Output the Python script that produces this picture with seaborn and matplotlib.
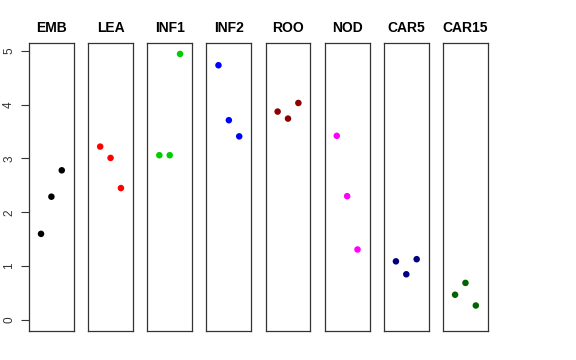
import matplotlib
matplotlib.use("Agg")
import matplotlib.pyplot as plt
import seaborn as sns
import pandas as pd

tissues = ["EMB", "LEA", "INF1", "INF2", "ROO", "NOD", "CAR5", "CAR15"]
colors = ["#000000", "#FF0000", "#00CD00", "#0000FF", "#8B0000", "#FF00FF", "#000080", "#006400"]
emb = [1.60, 2.29, 2.78]
lea = [3.22, 3.01, 2.45]
inf1 = [3.06, 3.06, 4.94]
inf2 = [4.73, 3.71, 3.41]
roo = [3.87, 3.74, 4.03]
nod = [3.42, 2.30, 1.31]
car5 = [1.09, 0.85, 1.13]
car15 = [0.47, 0.69, 0.27]
values = [emb, lea, inf1, inf2, roo, nod, car5, car15]
reps = [1, 2, 3]
yticks = [0, 1, 2, 3, 4, 5]

sns.set_theme(style="white")
plt.rcParams["font.family"] = ["Liberation Sans", "DejaVu Sans"]
plt.rcParams["text.color"] = "black"
plt.rcParams["ytick.color"] = "#333333"
plt.rcParams["ytick.labelcolor"] = "#333333"

df = pd.DataFrame({
    "tissue": [t for t, v in zip(tissues, values) for _ in v],
    "rep": reps * len(tissues),
    "value": [x for v in values for x in v],
})

W, H = 576, 360
fig = plt.figure(figsize=(W / 100, H / 100), dpi=100)
ymax = max(df["value"])
ymin = 0.0
yr = ymax - ymin
for i, (t, c) in enumerate(zip(tissues, colors)):
    left = 29 + i * 59.15
    ax = fig.add_axes([left / W, (H - 330.7) / H, 44.8 / W, (330.7 - 43.3) / H])
    sub = df[df["tissue"] == t]
    sns.scatterplot(data=sub, x="rep", y="value", color=c, s=22, edgecolor="none", ax=ax, legend=False)
    ax.set_xlim(-0.16, 4.16)
    ax.set_ylim(ymin - 0.04 * yr, ymax + 0.04 * yr)
    ax.set_xticks([])
    ax.set_xlabel("")
    ax.set_ylabel("")
    ax.set_title(t, fontsize=10, fontweight="bold", pad=8, color="black")
    for s in ax.spines.values():
        s.set_visible(True)
        s.set_color("#333333")
        s.set_linewidth(0.9)
    if i == 0:
        ax.set_yticks(yticks)
        ax.set_yticklabels([str(v) for v in yticks], rotation=90, va="center", fontsize=8.5)
        ax.tick_params(axis="y", left=True, length=6, width=0.8, pad=4)
    else:
        ax.set_yticks([])

fig.savefig("out.png", dpi=100)
